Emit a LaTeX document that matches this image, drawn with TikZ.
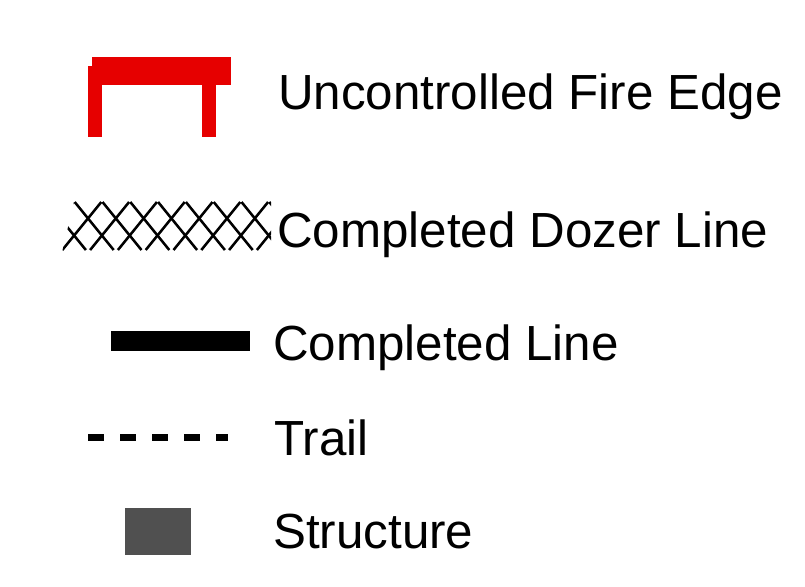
\documentclass[tikz,border=0pt]{standalone}
\usepackage{fontspec}
\setmainfont{Liberation Sans}
\definecolor{firered}{RGB}{230,0,0}
\definecolor{structgray}{RGB}{80,80,80}
\begin{document}
\begin{tikzpicture}[x=0.75pt,y=-0.75pt,
  lbl/.style={anchor=base west,inner sep=0pt,font=\fontsize{37}{40}\selectfont},
  hatch/.style={line width=1.9pt,black}]
\useasboundingbox (0,0) rectangle (805,586);
% Uncontrolled fire edge symbol
\fill[firered] (91.7,57.3) rectangle (231,85);
\fill[firered] (88,66) rectangle (101.7,137.3);
\fill[firered] (202.3,80) rectangle (215.7,137.3);
% Completed dozer line symbol
\begin{scope}
  \clip (74.2,201) -- (271,201) -- (271,251) -- (62.3,251) -- cycle;
  \foreach \k in {-2,...,8} {
    \draw[hatch] ({74.7+27.8*\k},202) -- ++(39,48);
    \draw[hatch] ({101.3+27.8*\k},202) -- ++(-39,48);
  }
\end{scope}
% Completed line symbol
\fill[black] (111,330.7) rectangle (250.3,351.3);
% Trail symbol
\draw[line width=5.25pt,dash pattern=on 11.8pt off 12.2pt] (88.3,437.5) -- (227.7,437.5);
% Structure symbol
\fill[structgray] (125,508.3) rectangle (190.7,554.7);
% Labels
\node[lbl] (t1) at (278,109.5) {Uncontrolled Fire Edge};
\node[lbl] (t2) at (277,247) {Completed Dozer Line};
\node[lbl] (t3) at (273,360) {Completed Line};
\node[lbl] (t4) at (274,455.5) {Trail};
\node[lbl] (t5) at (273,548) {Structure};
\end{tikzpicture}
\end{document}
